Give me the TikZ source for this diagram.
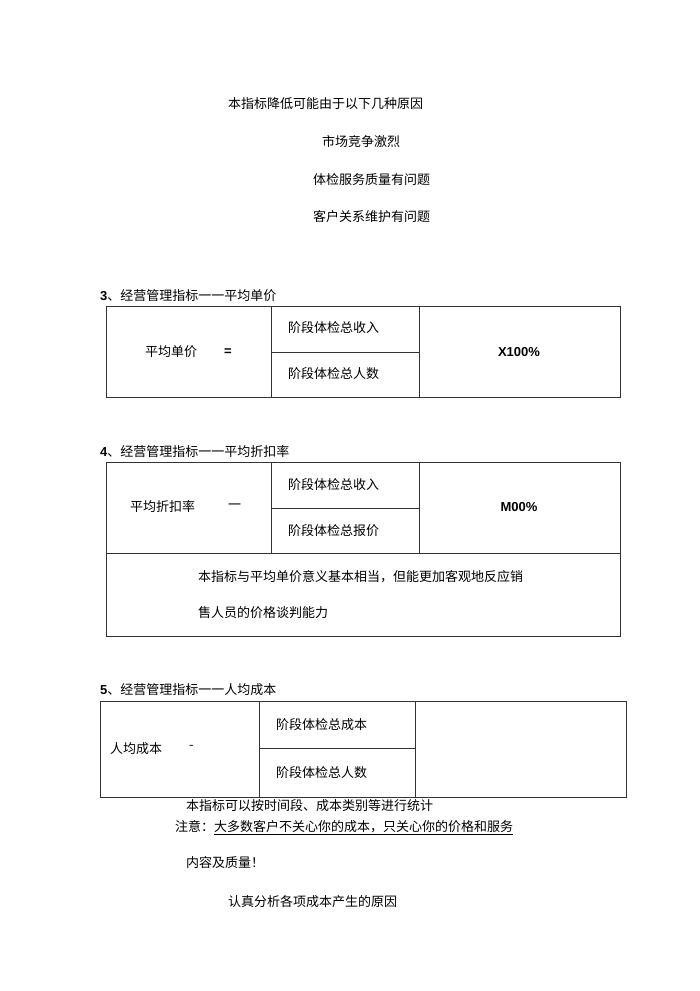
\documentclass[tikz,border=0pt]{standalone}
\usepackage{fontspec}
\setmainfont{Noto Sans CJK SC}
\newfontfamily\lat{Liberation Sans}
\begin{document}
\begin{tikzpicture}[x=1pt,y=-1pt,
  t/.style={anchor=west,inner sep=0pt,font=\fontsize{13}{15}\selectfont},
  b/.style={inner sep=0pt,font=\lat\bfseries\fontsize{13}{15}\selectfont},
  ln/.style={line width=0.6pt,draw=black!80}]
\useasboundingbox (0,0) rectangle (700,991);
\node[t] (a1) at (228,104) {本指标降低可能由于以下几种原因};
\node[t] (a2) at (322,142) {市场竞争激烈};
\node[t] (a3) at (313,180) {体检服务质量有问题};
\node[t] (a4) at (313,217) {客户关系维护有问题};
% table 1
\node[t] (h3) at (100,296) {{\lat\bfseries 3}、经营管理指标一一平均单价};
\draw[ln] (106,306) rectangle (620,397);
\draw[ln] (271,306) -- (271,397) (419,306) -- (419,397) (271,352) -- (419,352);
\node[t] (p1) at (145,352) {平均单价};
\node[b] (e1) at (228,352) {=};
\node[t] (r1) at (288,328) {阶段体检总收入};
\node[t] (r2) at (288,374) {阶段体检总人数};
\node[b] (x1) at (519,352) {X100\%};
% table 2
\node[t] (h4) at (100,452) {{\lat\bfseries 4}、经营管理指标一一平均折扣率};
\draw[ln] (106,462) rectangle (620,636);
\draw[ln] (271,462) -- (271,553) (419,462) -- (419,553) (271,508) -- (419,508) (106,553) -- (620,553);
\node[t] (p2) at (130,507) {平均折扣率};
\node[t] (e2) at (228,507) {一};
\node[t] (r3) at (288,485) {阶段体检总收入};
\node[t] (r4) at (288,531) {阶段体检总报价};
\node[b] (x2) at (519,507) {M00\%};
\node[t] (n1) at (198,577) {本指标与平均单价意义基本相当，但能更加客观地反应销};
\node[t] (n2) at (198,613) {售人员的价格谈判能力};
% table 3
\node[t] (h5) at (100,690) {{\lat\bfseries 5}、经营管理指标一一人均成本};
\draw[ln] (100,701) rectangle (626,797);
\draw[ln] (259,701) -- (259,797) (415,701) -- (415,797) (259,748) -- (415,748);
\node[t] (p3) at (110,749) {人均成本};
\node[t] (e3) at (189,747) {-};
\node[t] (r5) at (276,725) {阶段体检总成本};
\node[t] (r6) at (276,773) {阶段体检总人数};
\node[t] (m1) at (186,806) {本指标可以按时间段、成本类别等进行统计};
\node[t] (m2) at (175,828) {注意：\underline{大多数客户不关心你的成本，只关心你的价格和服务}};
\node[t] (m3) at (186,863) {内容及质量！};
\node[t] (m4) at (228,902) {认真分析各项成本产生的原因};
\end{tikzpicture}
\end{document}
